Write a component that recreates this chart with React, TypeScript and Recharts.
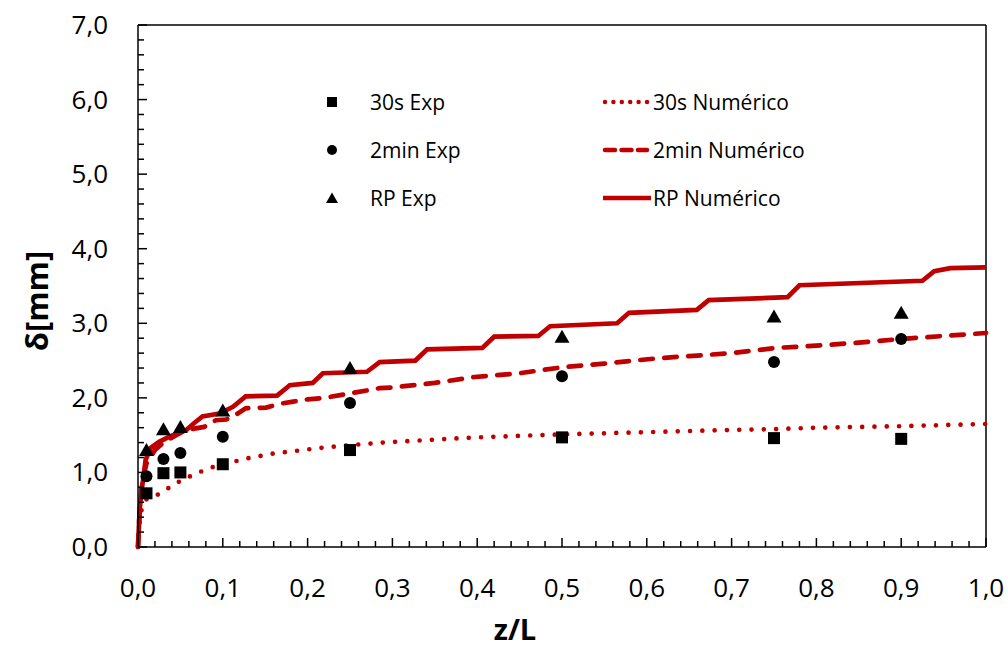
import React from "react";
import { ComposedChart, Line, Scatter, XAxis, YAxis, ReferenceLine } from "recharts";

// experimental points
const expZ = [0.01, 0.03, 0.05, 0.1, 0.25, 0.5, 0.75, 0.9];
const exp30s = [0.72, 0.99, 1.0, 1.11, 1.3, 1.47, 1.46, 1.45];
const exp2min = [0.95, 1.18, 1.26, 1.48, 1.93, 2.29, 2.48, 2.79];
const expRP = [1.3, 1.58, 1.61, 1.83, 2.4, 2.82, 3.09, 3.14];

// numerical curves
const num30sZ = [0, 0.002, 0.005, 0.01, 0.023, 0.036, 0.049, 0.062, 0.074, 0.088, 0.102, 0.115, 0.13, 0.158, 0.187, 0.216, 0.244, 0.288, 0.35, 0.4, 0.45, 0.5, 0.6, 0.7, 0.75, 0.8, 0.9, 1.0];
const num30s = [0, 0.35, 0.55, 0.64, 0.7, 0.79, 0.88, 0.95, 1.01, 1.07, 1.11, 1.15, 1.19, 1.25, 1.29, 1.33, 1.36, 1.4, 1.44, 1.47, 1.49, 1.51, 1.54, 1.57, 1.58, 1.6, 1.62, 1.65];

const num2minZ = [0, 0.002, 0.005, 0.01, 0.02, 0.03, 0.045, 0.057, 0.078, 0.092, 0.104, 0.115, 0.127, 0.151, 0.167, 0.183, 0.2, 0.22, 0.25, 0.285, 0.3, 0.35, 0.397, 0.45, 0.5, 0.55, 0.612, 0.65, 0.7, 0.753, 0.8, 0.85, 0.9, 0.95, 1.0];
const num2min = [0, 0.5, 0.88, 1.12, 1.3, 1.4, 1.5, 1.57, 1.61, 1.7, 1.71, 1.77, 1.86, 1.87, 1.92, 1.95, 1.98, 2.0, 2.06, 2.13, 2.14, 2.2, 2.28, 2.33, 2.41, 2.46, 2.53, 2.56, 2.6, 2.67, 2.7, 2.74, 2.79, 2.83, 2.87];

const numRPZ = [0, 0.002, 0.004, 0.006, 0.009, 0.015, 0.025, 0.037, 0.057, 0.066, 0.076, 0.096, 0.112, 0.127, 0.164, 0.179, 0.206, 0.218, 0.27, 0.285, 0.327, 0.341, 0.406, 0.42, 0.472, 0.486, 0.565, 0.579, 0.659, 0.673, 0.766, 0.78, 0.925, 0.939, 0.958, 1.0];
const numRP = [0, 0.5, 0.75, 0.9, 1.17, 1.33, 1.41, 1.48, 1.57, 1.66, 1.75, 1.79, 1.88, 2.02, 2.03, 2.17, 2.2, 2.33, 2.35, 2.48, 2.5, 2.65, 2.67, 2.82, 2.83, 2.96, 3.0, 3.14, 3.18, 3.31, 3.35, 3.51, 3.57, 3.7, 3.74, 3.75];

// ticks (minor + major)
const xTicks = [0, 0.02, 0.04, 0.06, 0.08, 0.1, 0.12, 0.14, 0.16, 0.18, 0.2, 0.22, 0.24, 0.26, 0.28, 0.3, 0.32, 0.34, 0.36, 0.38, 0.4, 0.42, 0.44, 0.46, 0.48, 0.5, 0.52, 0.54, 0.56, 0.58, 0.6, 0.62, 0.64, 0.66, 0.68, 0.7, 0.72, 0.74, 0.76, 0.78, 0.8, 0.82, 0.84, 0.86, 0.88, 0.9, 0.92, 0.94, 0.96, 0.98, 1.0];
const yTicks = [0, 0.2, 0.4, 0.6, 0.8, 1, 1.2, 1.4, 1.6, 1.8, 2, 2.2, 2.4, 2.6, 2.8, 3, 3.2, 3.4, 3.6, 3.8, 4, 4.2, 4.4, 4.6, 4.8, 5, 5.2, 5.4, 5.6, 5.8, 6, 6.2, 6.4, 6.6, 6.8, 7];

const FONT = "'Open Sans', 'Noto Sans', sans-serif";
const RED = "#C00000";

const toPts = (xs: number[], ys: number[]) => xs.map((x, i) => ({ x, y: ys[i] }));
const fmt = (v: number) => v.toFixed(1).replace(".", ",");

function XTick(props: any) {
  const { x, y, payload } = props;
  const v = payload.value;
  const major = Math.round(v * 100) % 10 === 0;
  const axisY = y - 31;
  return (
    <g>
      <line x1={x} x2={x} y1={axisY} y2={axisY - (major ? 9 : 6)} stroke="#000" strokeWidth={1.5} />
      {major && (
        <text x={x} y={y + 19} textAnchor="middle" fontSize={26} fontFamily={FONT} fill="#000">
          {fmt(v)}
        </text>
      )}
    </g>
  );
}

function YTick(props: any) {
  const { x, y, payload } = props;
  const v = payload.value;
  const major = Math.abs(v - Math.round(v)) < 1e-6;
  const axisX = x + 30;
  return (
    <g>
      <line x1={axisX} x2={axisX + (major ? 9 : 6)} y1={y} y2={y} stroke="#000" strokeWidth={1.5} />
      {major && (
        <text x={x} y={y + 9} textAnchor="end" fontSize={26} fontFamily={FONT} fill="#000">
          {fmt(v)}
        </text>
      )}
    </g>
  );
}

const Square = ({ cx, cy }: any) => <rect x={cx - 6} y={cy - 6} width={12} height={12} fill="#000" />;
const Dot = ({ cx, cy }: any) => <circle cx={cx} cy={cy} r={6} fill="#000" />;
const Tri = ({ cx, cy }: any) => (
  <polygon points={`${cx},${cy - 7} ${cx - 7.5},${cy + 6} ${cx + 7.5},${cy + 6}`} fill="#000" />
);

function LegendOverlay() {
  const rows = [102, 150, 198];
  const txt = { fontSize: 21, fontFamily: FONT, fill: "#000" };
  return (
    <svg width={1008} height={648} style={{ position: "absolute", left: 0, top: 0, pointerEvents: "none" }}>
      <rect x={327} y={rows[0] - 5} width={10} height={10} fill="#000" />
      <circle cx={332} cy={rows[1]} r={5} fill="#000" />
      <polygon points={`332,${rows[2] - 5.5} 326,${rows[2] + 5} 338,${rows[2] + 5}`} fill="#000" />
      <text x={370} y={rows[0] + 7.5} {...txt}>30s Exp</text>
      <text x={370} y={rows[1] + 7.5} {...txt}>2min Exp</text>
      <text x={370} y={rows[2] + 7.5} {...txt}>RP Exp</text>

      <line x1={605} x2={647} y1={rows[0]} y2={rows[0]} stroke={RED} strokeWidth={4.5} strokeDasharray="0 8.4" strokeLinecap="round" />
      <line x1={605} x2={647} y1={rows[1]} y2={rows[1]} stroke={RED} strokeWidth={4.5} strokeDasharray="10 6.5" strokeLinecap="round" />
      <line x1={603} x2={651} y1={rows[2]} y2={rows[2]} stroke={RED} strokeWidth={4.5} />
      <text x={653} y={rows[0] + 7.5} {...txt}>30s Numérico</text>
      <text x={653} y={rows[1] + 7.5} {...txt}>2min Numérico</text>
      <text x={653} y={rows[2] + 7.5} {...txt}>RP Numérico</text>

      <text x={515} y={640} textAnchor="middle" fontSize={29} fontWeight="bold" fontFamily={FONT} fill="#000">z/L</text>
      <text
        x={0}
        y={0}
        transform="translate(36,301) rotate(-90)"
        textAnchor="middle"
        dominantBaseline="central"
        fontSize={31}
        fontWeight="bold"
        fontFamily={FONT}
        fill="#000"
      >
        δ[mm]
      </text>
    </svg>
  );
}

export default function App() {
  return (
    <div style={{ position: "absolute", left: 0, top: 0, width: 1008, height: 648, background: "#fff" }}>
      <ComposedChart width={1008} height={648} margin={{ top: 25, right: 22, left: 0, bottom: 0 }}>
        <XAxis
          type="number"
          dataKey="x"
          domain={[0, 1]}
          ticks={xTicks}
          interval={0}
          height={101}
          tickSize={0}
          tickMargin={31}
          tickLine={false}
          axisLine={{ stroke: "#000", strokeWidth: 1.5 }}
          tick={(p: any) => <XTick {...p} />}
        />
        <YAxis
          type="number"
          dataKey="y"
          domain={[0, 7]}
          ticks={yTicks}
          interval={0}
          width={138}
          tickSize={0}
          tickMargin={30}
          tickLine={false}
          axisLine={{ stroke: "#000", strokeWidth: 1.5 }}
          tick={(p: any) => <YTick {...p} />}
        />
        <ReferenceLine y={7} stroke="#000" strokeWidth={1.5} />
        <ReferenceLine x={1} stroke="#000" strokeWidth={1.5} />

        <Line data={toPts(num30sZ, num30s)} dataKey="y" type="linear" stroke={RED} strokeWidth={4.7}
          strokeDasharray="0 12.3" strokeLinecap="round" dot={false} activeDot={false} isAnimationActive={false} />
        <Line data={toPts(num2minZ, num2min)} dataKey="y" type="linear" stroke={RED} strokeWidth={4.7}
          strokeDasharray="12.5 11.5" strokeLinecap="round" dot={false} activeDot={false} isAnimationActive={false} />
        <Line data={toPts(numRPZ, numRP)} dataKey="y" type="linear" stroke={RED} strokeWidth={4.7}
          dot={false} activeDot={false} isAnimationActive={false} />

        <Scatter data={toPts(expZ, exp30s)} dataKey="y" shape={Square} isAnimationActive={false} />
        <Scatter data={toPts(expZ, exp2min)} dataKey="y" shape={Dot} isAnimationActive={false} />
        <Scatter data={toPts(expZ, expRP)} dataKey="y" shape={Tri} isAnimationActive={false} />
      </ComposedChart>
      <LegendOverlay />
    </div>
  );
}
